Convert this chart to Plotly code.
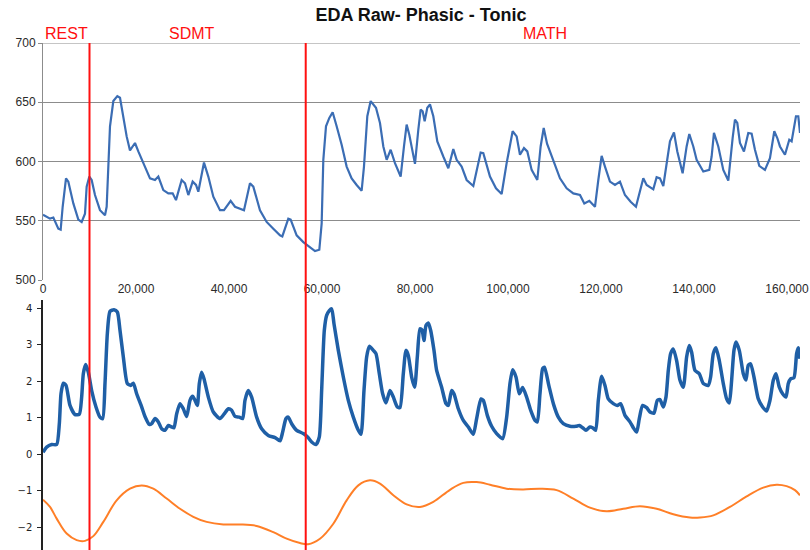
import plotly.graph_objects as go

# ---- data ----
raw_x = [0, 1505, 2222, 3297, 3800, 4230, 4946, 5448, 6523, 7598, 8315, 9032, 9390, 9963, 10465,
         11182, 12257, 13332, 13691, 14050, 14408, 15125, 15985, 16559, 17275, 17992, 18709, 19784,
         20500, 21576, 23009, 24085, 24802, 25877, 26952, 27884, 28600, 29819, 30536, 31253, 32185,
         32901, 33403, 34622, 35553, 36629, 38062, 38923, 40356, 41288, 42363, 43223, 44514, 45230,
         46664, 48097, 49531, 50965, 51467, 52757, 53259, 54549, 55983, 57418, 58493, 59425, 59927,
         60285, 60859, 61575, 62292, 63152, 64228, 65303, 66378, 67453, 68529, 69030, 69747, 70464,
         71611, 72471, 73188, 73905, 74765, 75696, 76915, 77632, 78205, 78779, 79998, 80715, 81216,
         81647, 82077, 82650, 83224, 83941, 84801, 86091, 87166, 88241, 88958, 90034, 91109, 92543,
         94120, 94693, 96127, 97417, 98635, 99711, 101001, 101861, 102578, 103438, 104155, 105086,
         106305, 107022, 107680, 108400, 109747, 111181, 112614, 114048, 115482, 116414, 117489,
         118707, 119424, 120141, 120858, 121933, 123008, 124083, 125158, 126377, 127524, 128384,
         129101, 129818, 131251, 131968, 132685, 133402, 134118, 134835, 135695, 136412, 137559,
         138419, 138993, 139853, 140570, 142003, 143294, 143795, 144297, 145229, 146304, 147379,
         148311, 148813, 149315, 149888, 150748, 151680, 152397, 153114, 154045, 155264, 156339,
         157271, 157916, 158490, 159565, 160497, 161000, 161358, 161931, 162433, 162800]
raw_y = [555, 551.8, 552.7, 543.3, 542.5, 561.8, 585.8, 583, 564.6, 551, 549, 556, 578.8, 587.3, 584.4,
         571.7, 558.9, 554.7, 561.8, 595.7, 629.7, 651, 655.2, 653.8, 638.2, 621.2, 609.3, 615.6,
         608.5, 598.6, 585.8, 584.4, 587.3, 575.9, 573.1, 573.1, 567.4, 584.4, 581.6, 571.7, 583,
         580.2, 574.5, 599.1, 587.3, 570.3, 558.9, 558.9, 566.8, 561.8, 560.3, 558.9, 581.6, 578.8,
         558.9, 549, 543.3, 537.7, 536.8, 551.8, 551, 537.7, 532, 527.8, 524.4, 525.5, 547.6,
         601.4, 629.7, 636.8, 641.6, 629.7, 614.2, 595.7, 585.8, 580.2, 575.4, 595.7, 638.2, 651,
         645.3, 632.5, 612.7, 601.4, 609.9, 598.6, 587.3, 612.7, 631.1, 622.6, 598, 626.8, 643.8,
         642.4, 634, 645.3, 648.2, 638.2, 617, 604.2, 594.3, 610.5, 601.4, 595.7, 584.4, 579.3,
         607.6, 607.1, 587.3, 577.4, 572.6, 598.6, 625.5, 621.2, 605.7, 611.3, 608.5, 592.9,
         584.4, 612.7, 628.3, 615, 600, 585.8, 577.4, 573.1, 571.7, 564.6, 566.8,
         561.8, 584.4, 604.8, 595.7, 583, 580.2, 583, 571.7, 566, 561.8, 575.9,
         585.8, 580.2, 576.5, 586.7, 585.8, 579.3, 598.6, 617, 624.6, 608.5, 590.1,
         612.7, 623.2, 612.7, 601.4, 591.5, 592.9, 604.2, 624.1, 612.7, 592.9, 583.9,
         619.8, 635.4, 632.5, 615.6, 608.5, 624.1, 623.5, 609.9, 596.3, 592.9, 602.8,
         625.5, 619.8, 612.7, 605.7, 618.4, 617, 624.1, 638.2, 638.2, 624.1]

phasic_x = [0, 788, 1864, 2939, 3512, 3871, 4372, 4946, 5806, 6881, 7813, 8315, 8673, 9175, 9749,
            10465, 11397, 12257, 12830, 13332, 13834, 14408, 15268, 15985, 16558, 17275, 18135,
            18852, 19425, 20142, 21217, 21934, 22866, 23368, 24085, 24802, 25519, 26236, 26952,
            27669, 28170, 28743, 29460, 30177, 30894, 31610, 32184, 32686, 33188, 33618, 34120,
            34622, 35553, 36629, 38062, 38923, 39855, 40572, 41288, 42220, 42937, 43438, 44155,
            44872, 45947, 47022, 48456, 49889, 50964, 51538, 52255, 52757, 53474, 54549, 55983,
            57000, 57776, 58708, 59425, 59927, 60500, 61002, 61575, 62077, 62579, 63511, 64586,
            65661, 66736, 67812, 68385, 69030, 69604, 70177, 71037, 71611, 72328, 73045, 73761,
            74622, 75339, 76199, 76772, 77489, 78063, 78564, 79281, 79926, 80500, 81073, 81503,
            81933, 82363, 82865, 83367, 84084, 84657, 85732, 86664, 87166, 87883, 88384, 89316,
            90391, 91467, 92542, 93259, 94191, 94693, 95553, 96485, 97560, 98850, 99711, 100428,
            101001, 101718, 102435, 103151, 104012, 104872, 105804, 106305, 106879, 107452,
            107850, 108780, 109800, 110822, 111898, 113331, 114621, 115338, 116055, 116772,
            117632, 118205, 118850, 119424, 120141, 120857, 121574, 122650, 123510, 124227,
            125158, 126234, 126951, 127667, 128241, 128958, 129818, 130534, 131395, 132112,
            132685, 133402, 133975, 134477, 134979, 135552, 136269, 136986, 137702, 138419,
            138993, 139494, 140211, 141143, 142003, 143079, 143580, 144154, 144727, 145444,
            146304, 147021, 147594, 148096, 148598, 149028, 149745, 150605, 151179, 151680,
            152182, 152899, 153830, 154762, 155622, 156339, 157056, 157630, 158346, 159063,
            159780, 160282, 160784, 161500, 162073, 162432, 162790]
phasic_y = [0.05, 0.19, 0.26, 0.26, 0.83, 1.65, 1.94, 1.88, 1.33, 1.08, 1.09, 1.56, 2.20, 2.45, 2.24,
            1.74, 1.29, 1.01, 0.97, 1.93, 3.29, 3.91, 3.95, 3.89, 3.39, 2.66, 1.93,
            1.88, 1.94, 1.65, 1.29, 1.03, 0.81, 0.83, 0.97, 0.88, 0.69, 0.65, 0.78,
            0.74, 0.72, 1.10, 1.38, 1.24, 1.03, 1.47, 1.58, 1.47, 1.33, 1.93, 2.24,
            2.06, 1.56, 1.15, 0.97, 1.09, 1.24, 1.20, 1.03, 1.01, 0.97, 1.47, 1.74,
            1.56, 1.01, 0.69, 0.51, 0.45, 0.36, 0.60, 0.97, 1.01, 0.83, 0.65, 0.56,
            0.45, 0.33, 0.26, 0.47, 1.74, 3.39, 3.80, 3.93, 3.98, 3.57, 2.84, 2.11,
            1.47, 1.01, 0.65, 0.54, 1.74, 2.66, 2.95, 2.84, 2.75, 2.20, 1.65, 1.40,
            1.74, 1.56, 1.29, 1.27, 2.20, 2.84, 2.70, 2.11, 1.83, 2.66, 3.43, 3.40,
            3.11, 3.52, 3.59, 3.39, 2.84, 2.29, 1.83, 1.38, 1.33, 1.74, 1.65, 1.24,
            0.92, 0.74, 0.54, 0.97, 1.51, 1.47, 1.06, 0.76, 0.56, 0.42, 1.01, 1.93,
            2.31, 2.11, 1.65, 1.82, 1.56, 1.20, 0.92, 0.88, 1.65, 2.34,
            2.38, 1.88, 1.36, 1.01, 0.83, 0.76, 0.76, 0.78, 0.72, 0.65,
            0.74, 0.72, 0.65, 1.47, 2.13, 1.88, 1.51, 1.38, 1.33, 1.38,
            1.06, 0.88, 0.72, 0.60, 0.97, 1.33, 1.27, 1.15, 1.12, 1.47,
            1.49, 1.29, 1.56, 2.29, 2.75, 2.88, 2.56, 2.02, 1.83, 2.66,
            2.97, 2.79, 2.29, 2.20, 1.93, 1.88, 2.11, 2.75, 2.91, 2.56,
            1.93, 1.51, 1.40, 2.02, 2.84, 3.07, 2.84, 2.20, 2.03, 2.43,
            2.47, 2.11, 1.51, 1.29, 1.18, 1.47, 2.02, 2.20, 1.83, 1.65,
            1.56, 1.93, 2.06, 2.09, 2.75, 2.91, 2.61]

tonic_x = [0, 1505, 2939, 5089, 7240, 9032, 10824, 12974, 15841, 18709, 21217, 23726, 26593, 29460,
           32328, 35195, 38779, 42363, 45947, 49531, 52398, 55266, 57000, 59568, 62436, 65303,
           67812, 70320, 72471, 75339, 78205, 81073, 83941, 87524, 90391, 93259, 96127, 99711,
           103294, 106879, 110464, 114048, 117632, 121216, 124800, 128384, 131968, 135552,
           139136, 141286, 144154, 147738, 151322, 154906, 157773, 159924, 161716, 162790]
tonic_y = [-1.25, -1.45, -1.77, -2.18, -2.36, -2.38, -2.25, -1.86, -1.27, -0.95, -0.86, -0.95, -1.22,
           -1.50, -1.72, -1.86, -1.93, -1.93, -1.97, -2.14, -2.32, -2.44, -2.47, -2.32, -1.91, -1.27,
           -0.86, -0.72, -0.81, -1.13, -1.38, -1.45, -1.31, -0.98, -0.79, -0.77, -0.84, -0.95,
           -0.97, -0.95, -0.99, -1.22, -1.47, -1.57, -1.50, -1.43, -1.50, -1.65,
           -1.74, -1.74, -1.68, -1.45, -1.16, -0.92, -0.84, -0.88, -0.99, -1.13]

event_x = [10000, 56500]
section_labels = ["REST", "SDMT", "MATH"]
section_label_x = [5100, 32100, 108000]
x_ticks = [0, 20000, 40000, 60000, 80000, 100000, 120000, 140000, 160000]
raw_ticks = [500, 550, 600, 650, 700]
bottom_ticks = [-2, -1, 0, 1, 2, 3, 4]
title_text = "EDA Raw- Phasic - Tonic"

# ---- figure ----
W, H = 810, 550
top_dom = [1 - 280 / H, 1 - 43 / H]
bot_dom = [0, 1 - 300 / H]
x_range = [0, 162800]
raw_range = [500, 700]
grid_col = "#8c8c8c"

fig = go.Figure()
fig.add_trace(go.Scatter(x=raw_x, y=raw_y, mode="lines", xaxis="x", yaxis="y",
                         line=dict(color="#3b6db4", width=2.2), hoverinfo="skip"))
fig.add_trace(go.Scatter(x=phasic_x, y=phasic_y, mode="lines", xaxis="x2", yaxis="y2",
                         line=dict(color="#1f5fa6", width=3.5, shape="spline", smoothing=0.6),
                         hoverinfo="skip"))
fig.add_trace(go.Scatter(x=tonic_x, y=tonic_y, mode="lines", xaxis="x2", yaxis="y2",
                         line=dict(color="#ff7f27", width=2, shape="spline", smoothing=1.0),
                         hoverinfo="skip"))

# top gridline at the upper end of the raw axis
fig.add_shape(type="line", xref="x domain", yref="y", x0=0, x1=1, y0=raw_range[1], y1=raw_range[1],
              line=dict(color=grid_col, width=1.2), layer="below")

for ex in event_x:
    fig.add_shape(type="line", xref="x", yref="paper", x0=ex, x1=ex, y0=0, y1=top_dom[1],
                  line=dict(color="#ff1010", width=2), layer="above")

for lab, lx in zip(section_labels, section_label_x):
    fig.add_annotation(x=lx, xref="x", y=1 - 34 / H, yref="paper", text=lab, showarrow=False,
                       yanchor="middle", font=dict(family="Liberation Sans, Arial", size=16,
                                                   color="#ff1010"))

fig.update_layout(
    width=W, height=H,
    margin=dict(l=43, r=10, t=0, b=0, autoexpand=False),
    paper_bgcolor="white", plot_bgcolor="white",
    showlegend=False,
    title=dict(text="<b>" + title_text + "</b>", x=421 / W, xanchor="center",
               y=1 - 15 / H, yanchor="middle", yref="container",
               font=dict(family="Liberation Sans, Arial", size=18, color="#111")),
    xaxis=dict(domain=[0, 1], range=x_range, anchor="y", tickvals=x_ticks, tickformat=",d",
               showgrid=False, zeroline=False, showline=False, ticks="", automargin=False,
               tickfont=dict(family="Liberation Sans, Arial", size=12, color="#2a2a2a")),
    yaxis=dict(domain=top_dom, range=raw_range, tickvals=raw_ticks, showgrid=True,
               gridcolor=grid_col, gridwidth=1, zeroline=False, showline=True, automargin=False,
               linecolor=grid_col, ticks="outside", ticklen=4, tickcolor=grid_col,
               tickfont=dict(family="Liberation Sans, Arial", size=12, color="#2a2a2a")),
    xaxis2=dict(domain=[0, 1], range=x_range, anchor="y2", visible=False, automargin=False),
    yaxis2=dict(domain=bot_dom, range=[-2.63, 4.22], tickvals=bottom_ticks, showgrid=False,
                zeroline=False, showline=True, linecolor="#222", linewidth=1.5, automargin=False,
                ticks="outside", ticklen=4, tickcolor="#222", ticklabelstandoff=3,
                tickfont=dict(family="DejaVu Sans", size=10, color="#222")),
)

fig.write_html("out.html")
